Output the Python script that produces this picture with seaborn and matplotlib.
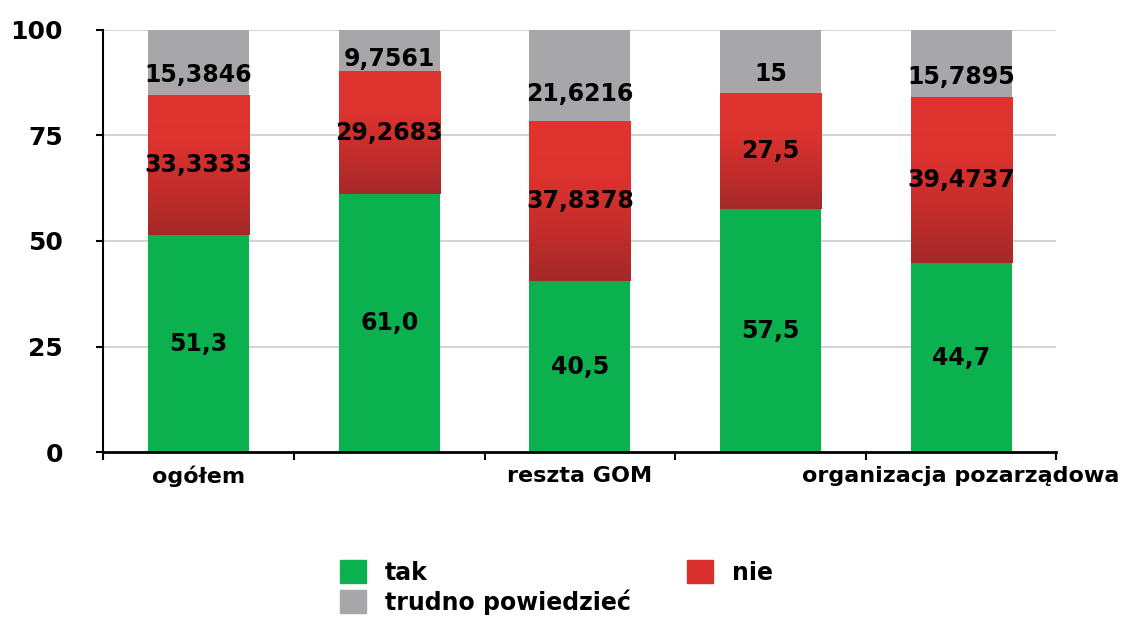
import numpy as np
import pandas as pd
import matplotlib.pyplot as plt
import seaborn as sns
from matplotlib.patches import Patch
from matplotlib.colors import LinearSegmentedColormap

# data
labels = ["ogółem", "", "reszta GOM", "", "organizacja pozarządowa"]
tak = [51.3, 61.0, 40.5, 57.5, 44.7]
nie = [33.3333, 29.2683, 37.8378, 27.5, 39.4737]
trudno = [15.3846, 9.7561, 21.6216, 15.0, 15.7895]
tak_txt = ["51,3", "61,0", "40,5", "57,5", "44,7"]
nie_txt = ["33,3333", "29,2683", "37,8378", "27,5", "39,4737"]
trudno_txt = ["15,3846", "9,7561", "21,6216", "15", "15,7895"]

green = "#0bb04f"
red = "#d9302c"
grey = "#a7a7a9"

df = pd.DataFrame({"pos": range(len(labels)), "tak": tak, "nie": nie, "trudno": trudno})
df["top_nie"] = df["tak"] + df["nie"]
df["top_all"] = df["top_nie"] + df["trudno"]

sns.set_style("white")
plt.rcParams["font.family"] = ["DejaVu Sans"]
plt.rcParams["font.weight"] = "bold"
plt.rcParams["text.color"] = "black"
plt.rcParams["xtick.color"] = "black"
plt.rcParams["ytick.color"] = "black"

fig = plt.figure(figsize=(11.36, 6.21), dpi=100)
ax = fig.add_axes([0.091, 0.272, 0.839, 0.68])

for v in [25, 50, 75, 100]:
    ax.axhline(v, color="#c9ccd6", lw=1.2, zorder=0)

w = 0.53
bar_kw = dict(saturation=1, width=w, ax=ax, linewidth=0, edgecolor="none")
sns.barplot(data=df, x="pos", y="top_all", color=grey, zorder=2, **bar_kw)
n0 = len(ax.patches)
sns.barplot(data=df, x="pos", y="top_nie", color=red, zorder=3, **bar_kw)
red_bars = ax.patches[n0:]
sns.barplot(data=df, x="pos", y="tak", color=green, zorder=4, **bar_kw)

# vertical gradient on the red segments (dark at bottom, bright at top)
cmap = LinearSegmentedColormap.from_list("redgrad", ["#a42928", "#c42d2b", "#dd332f", "#e0342f"])
grad = np.linspace(0, 1, 256).reshape(-1, 1)
for p, b in zip(red_bars, tak):
    x0 = p.get_x()
    x1 = x0 + p.get_width()
    y1 = p.get_height()
    im = ax.imshow(grad, cmap=cmap, origin="lower", aspect="auto",
                   extent=[x0, x1, b, y1], zorder=3.5)
    clip = plt.Rectangle((x0, b), x1 - x0, y1 - b, transform=ax.transData)
    im.set_clip_path(clip)

ax.set_xlim(-0.5, len(labels) - 0.5)
ax.set_ylim(0, 100)

fs = 17
for i in range(len(labels)):
    ax.text(i, tak[i] / 2, tak_txt[i], ha="center", va="center", fontsize=fs, fontweight="bold", zorder=6)
    ax.text(i, tak[i] + nie[i] / 2, nie_txt[i], ha="center", va="center", fontsize=fs, fontweight="bold", zorder=6)
    ax.text(i, tak[i] + nie[i] + trudno[i] * 0.3, trudno_txt[i], ha="center", va="center",
            fontsize=fs, fontweight="bold", zorder=6)

ax.set_xlabel("")
ax.set_ylabel("")
ax.set_yticks([0, 25, 50, 75, 100])
ax.tick_params(axis="y", labelsize=18, length=5, width=1.5, direction="out", pad=24, left=True)
ax.set_xticks(range(len(labels)), labels)
ax.set_xticks(np.arange(-0.5, len(labels)), minor=True)
ax.tick_params(axis="x", which="major", length=0, labelsize=16, pad=10)
ax.tick_params(axis="x", which="minor", length=6, width=1.5, direction="out", bottom=True)
for t in ax.get_xticklabels() + ax.get_yticklabels():
    t.set_fontweight("bold")

sns.despine(ax=ax, top=True, right=True)
ax.spines["left"].set_color("black")
ax.spines["left"].set_linewidth(1.5)
ax.spines["bottom"].set_color("black")
ax.spines["bottom"].set_linewidth(2)
ax.spines["left"].set_zorder(7)
ax.spines["bottom"].set_zorder(7)

handles = [Patch(color=green, label="tak"),
           Patch(color=grey, label="trudno powiedzieć"),
           Patch(color=red, label="nie")]
fig.legend(handles=handles, loc="center", bbox_to_anchor=(0.49, 0.054), ncol=2, frameon=False,
           handlelength=1.1, handleheight=1.1, handletextpad=0.8,
           columnspacing=2.4, labelspacing=0.2, prop={"weight": "bold", "size": 17})

fig.savefig("out.png", dpi=100)
